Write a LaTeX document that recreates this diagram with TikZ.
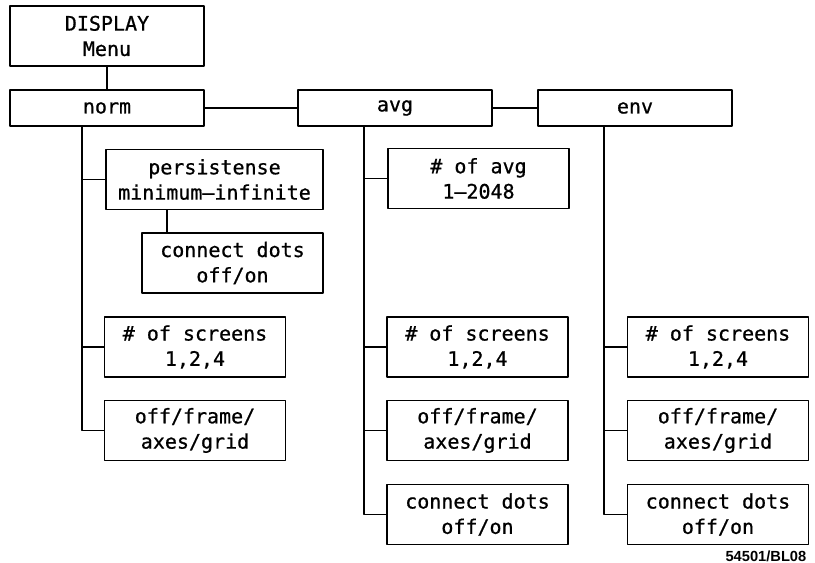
\documentclass[tikz,border=0pt]{standalone}
\usepackage{fontspec}
\newfontfamily\plotfont[FakeBold=0.8]{DejaVu Sans Mono}
\newfontfamily\tagfont{Liberation Sans}
\begin{document}
\begin{tikzpicture}[x=0.75pt, y=-0.75pt, line join=round, line cap=round,
	box/.style={draw, line width=1.4pt, inner sep=0pt, align=center, font=\plotfont\fontsize{15}{19}\selectfont},
	topbox/.style={box, minimum width=145.5pt, minimum height=27pt},
	subbox/.style={box, minimum width=135.75pt, minimum height=45pt},
	wire/.style={line width=1.4pt}]
	\useasboundingbox (0,0) rectangle (815,563);
	% menu row
	\node[topbox, minimum height=45pt] (disp) at (107,36) {DISPLAY\\Menu};
	\node[topbox] (norm) at (107,108) {norm};
	\node[topbox] (avg) at (395,108) {avg};
	\node[topbox] (env) at (635,108) {env};
	% softkey boxes
	\node[subbox, minimum width=162.75pt] (pers) at (214.5,179.5) {persistense\\minimum–infinite};
	\node[subbox] (pdots) at (232.5,263) {connect dots\\off/on};
	\node[subbox] (avgno) at (478.5,178.5) {\# of avg\\1–2048};
	\foreach \c/\x in {n/195, a/477.5, e/718} {
		\node[subbox] (\c scr) at (\x,347) {\# of screens\\1,2,4};
		\node[subbox] (\c frm) at (\x,430.5) {off/frame/\\axes/grid};
	}
	\foreach \c/\x in {a/477.5, e/718} \node[subbox] (\c dots) at (\x,514.5) {connect dots\\off/on};
	% wiring
	\coordinate (nbus) at (82,0); \coordinate (abus) at (364,0);
	\coordinate (ebus) at (604,0); \coordinate (pdrop) at (167,0);
	\draw[wire] (disp) -- (norm);
	\draw[wire] (norm) -- (avg) -- (env);
	\foreach \b in {pers,nscr,nfrm} \draw[wire] (nbus |- norm.south) |- (\b.west);
	\foreach \b in {avgno,ascr,afrm,adots} \draw[wire] (abus |- avg.south) |- (\b.west);
	\foreach \b in {escr,efrm,edots} \draw[wire] (ebus |- env.south) |- (\b.west);
	\draw[wire] (pdrop |- pers.south) -- (pdrop |- pdots.north);
	\node[font=\tagfont\bfseries\fontsize{11}{12}\selectfont, anchor=east] (tag) at (811,556) {54501/BL08};
\end{tikzpicture}
\end{document}
